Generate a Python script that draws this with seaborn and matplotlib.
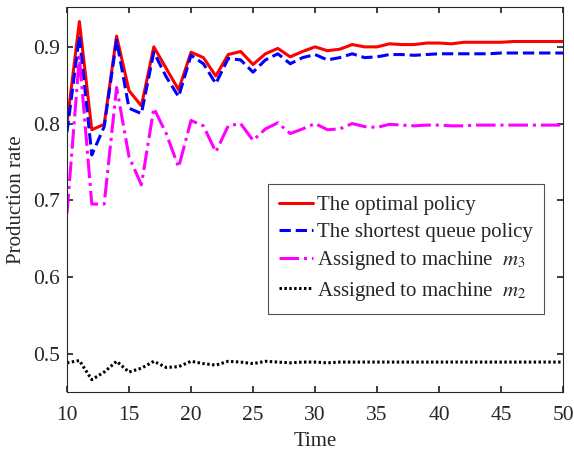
import numpy as np
import pandas as pd
import seaborn as sns
import matplotlib
matplotlib.use("Agg")
import matplotlib.pyplot as plt

# time steps
time = list(range(10, 51))

# production rate, optimal policy
optimal = [0.800, 0.933, 0.792, 0.799, 0.914, 0.843, 0.823, 0.900, 0.872, 0.844,
           0.893, 0.886, 0.862, 0.890, 0.894, 0.877, 0.891, 0.898, 0.887, 0.894,
           0.900, 0.895, 0.897, 0.903, 0.900, 0.900, 0.904, 0.903, 0.903, 0.905,
           0.905, 0.904, 0.906, 0.906, 0.906, 0.906, 0.907, 0.907, 0.907, 0.907, 0.907]
# shortest queue policy
shortest = [0.789, 0.914, 0.759, 0.796, 0.909, 0.820, 0.813, 0.893, 0.861, 0.835,
            0.889, 0.878, 0.852, 0.885, 0.883, 0.867, 0.883, 0.891, 0.878, 0.886,
            0.890, 0.883, 0.886, 0.891, 0.886, 0.887, 0.890, 0.890, 0.889, 0.890,
            0.891, 0.891, 0.891, 0.891, 0.891, 0.892, 0.892, 0.892, 0.892, 0.892, 0.892]
# assigned to machine m3
machine_m3 = [0.683, 0.887, 0.695, 0.695, 0.847, 0.757, 0.720, 0.820, 0.787, 0.743,
              0.804, 0.797, 0.763, 0.797, 0.800, 0.778, 0.793, 0.801, 0.787, 0.793,
              0.800, 0.792, 0.793, 0.800, 0.796, 0.795, 0.799, 0.798, 0.797, 0.798,
              0.798, 0.797, 0.797, 0.798, 0.798, 0.798, 0.798, 0.798, 0.798, 0.798, 0.798]
# assigned to machine m2
machine_m2 = [0.488, 0.491, 0.466, 0.476, 0.490, 0.476, 0.481, 0.490, 0.482, 0.483,
              0.490, 0.487, 0.485, 0.490, 0.489, 0.487, 0.490, 0.489, 0.488, 0.489,
              0.489, 0.488, 0.489, 0.489, 0.489, 0.489, 0.489, 0.489, 0.489, 0.489,
              0.489, 0.489, 0.489, 0.489, 0.489, 0.489, 0.489, 0.489, 0.489, 0.489, 0.489]

sns.set_theme(style="ticks")
plt.rcParams['font.family'] = ['Liberation Serif', 'DejaVu Serif']
plt.rcParams['mathtext.fontset'] = 'stix'
plt.rcParams['xtick.direction'] = 'in'
plt.rcParams['ytick.direction'] = 'in'

fig = plt.figure(figsize=(5.74, 4.54), dpi=100)
ax = fig.add_axes([0.1167, 0.1366, 0.8643, 0.848])

sns.lineplot(x=time, y=optimal, ax=ax, color='#ff0000', lw=2.2, linestyle='-',
             label='The optimal policy')
sns.lineplot(x=time, y=shortest, ax=ax, color='#0000ff', lw=2.2, linestyle='--',
             label='The shortest queue policy')
sns.lineplot(x=time, y=machine_m3, ax=ax, color='#ff00ff', lw=2.2, linestyle='-.',
             label='Assigned to machine  $m_3$')
sns.lineplot(x=time, y=machine_m2, ax=ax, color='black', lw=2.2, linestyle=(0, (0.8, 0.8)),
             label='Assigned to machine  $m_2$')

ax.set_xlim(10, 50)
ax.set_ylim(0.45, 0.952)
ax.set_xticks(range(10, 51, 5))
ax.set_yticks([0.5, 0.6, 0.7, 0.8, 0.9])
ax.tick_params(labelsize=15.5, colors='#262626', top=True, right=True, length=4)
ax.tick_params(axis='x', pad=10)
ax.tick_params(axis='y', pad=5)
for s in ax.spines.values():
    s.set_color('#262626')
    s.set_linewidth(0.8)
ax.set_xlabel('Time', fontsize=15, labelpad=5)
ax.set_ylabel('Production rate', fontsize=15, labelpad=5)

leg = ax.legend(loc='upper right', bbox_to_anchor=(0.962, 0.54), fontsize=15,
                frameon=True, fancybox=False, edgecolor='#262626',
                handlelength=1.6, handletextpad=0.2, borderpad=0.55, labelspacing=0.35,
                borderaxespad=0)
leg.get_frame().set_linewidth(0.8)

fig.savefig('out.png', dpi=100)
